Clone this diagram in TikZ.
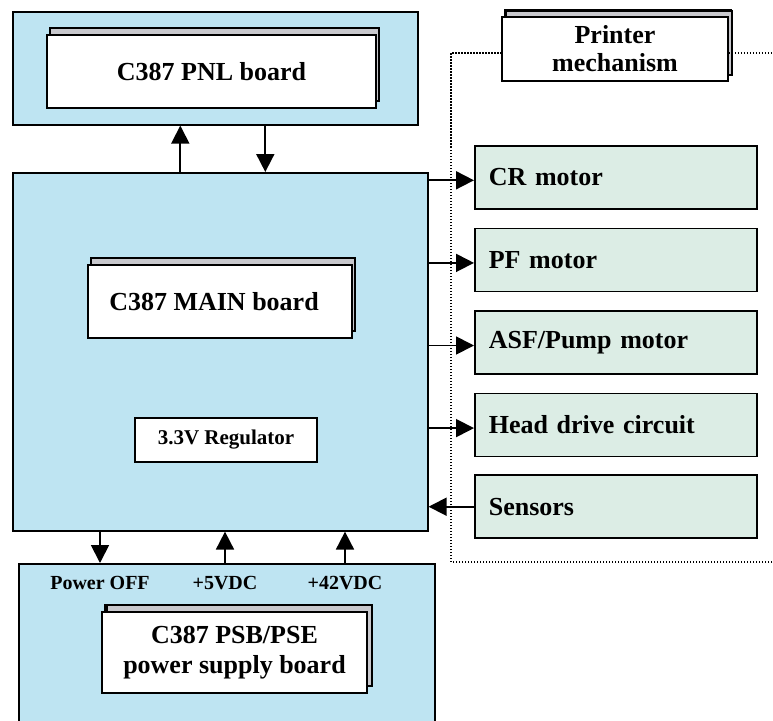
\documentclass[tikz,border=0pt]{standalone}
\usepackage{fontspec}
\setmainfont{Liberation Serif}
\usetikzlibrary{arrows.meta, positioning, shadows}
\definecolor{unitblue}{RGB}{190,228,242}
\definecolor{mechgreen}{RGB}{220,237,229}
\definecolor{shadowgray}{RGB}{200,200,205}

\begin{document}
\begin{tikzpicture}[x=1pt, y=-1pt,
      font=\bfseries\fontsize{26}{29}\selectfont,
      unit/.style={draw, line width=1.6pt, fill=unitblue, anchor=north west, inner sep=0pt},
      board/.style={draw, line width=1.6pt, fill=white, align=center, inner sep=0pt,
        copy shadow={shadow xshift=3pt, shadow yshift=7pt, fill=shadowgray, draw=black, line width=1.6pt}},
      mech/.style={draw, line width=1.6pt, fill=mechgreen, text width=254pt, align=left,
        inner xsep=14pt, minimum height=63pt},
      label/.style={font=\bfseries\fontsize{20}{22}\selectfont, inner sep=0pt},
      arrow/.style={-{Triangle[length=18pt, width=18pt]}, line width=1.8pt},
      mechline/.style={line width=1.5pt, dash pattern=on 1.5pt off 1.5pt}
    ]
      \useasboundingbox (0,0) rectangle (773,720);

      % panel unit
      \node[unit, minimum width=405pt, minimum height=113pt] (pnlunit) at (12,11) {};
      \node[board, minimum width=329pt, minimum height=73pt] (pnlboard) at (211.5,71.5) {C387 PNL board};

      % main unit
      \node[unit, minimum width=415pt, minimum height=358pt] (mainunit) at (12,172) {};
      \node[board, minimum width=264pt, minimum height=73pt] (mainboard) at (220,301.5) {C387 MAIN board\hspace{12pt}};
      \node[draw, line width=1.6pt, fill=white, minimum width=182pt, minimum height=44pt, inner sep=0pt,
        font=\bfseries\fontsize{21}{24}\selectfont] (regulator) at (226,440) {3.3V Regulator};

      % power supply unit
      \node[unit, minimum width=416pt, minimum height=170pt] (psbunit) at (18,563) {};
      \node[label] (lblpoweroff) at (100,583) {Power OFF};
      \node[label] (lblfivev) at (225,583) {+5VDC};
      \node[label] (lblfortytwov) at (345,583) {+42VDC};
      \node[board, minimum width=265pt, minimum height=81pt,
        copy shadow={shadow xshift=5pt, shadow yshift=7pt, fill=shadowgray, draw=black, line width=1.6pt}]
        (psbboard) at (234.5,652.5) {C387 PSB/PSE\\[1pt]power supply board};

      % printer mechanism
      \coordinate (mechtl) at (451,53);
      \coordinate (mechtr) at (775,53);
      \coordinate (mechbl) at (451,562);
      \coordinate (mechbr) at (775,562);
      \draw[mechline] (mechbr) -- (mechbl) -- (mechtl) -- (560,53);
      \node[board, minimum width=226pt, minimum height=64pt,
        copy shadow={shadow xshift=4pt, shadow yshift=6pt, fill=shadowgray, draw=black, line width=1.6pt}]
        (mechlabel) at (615,49) {Printer\\[-1pt]mechanism};
      \draw[mechline] (mechlabel.east |- mechtr) -- (mechtr);

      \node[mech, anchor=north west] (crmotor) at (474,145) {CR motor};
      \node[mech, below=18pt of crmotor] (pfmotor) {PF motor};
      \node[mech, below=18pt of pfmotor] (asfmotor) {ASF/Pump motor};
      \node[mech, below=18pt of asfmotor] (headdrive) {Head drive circuit};
      \node[mech, below=17pt of headdrive] (sensors) {Sensors};

      % connections
      \draw[arrow] ([xshift=-40pt]mainunit.north) -- ([xshift=-40pt]mainunit.north |- pnlunit.south);
      \draw[arrow] ([xshift=45pt]mainunit.north |- pnlunit.south) -- ([xshift=45pt]mainunit.north);
      \foreach \part in {crmotor, pfmotor, asfmotor, headdrive}
        \draw[arrow] ([yshift=-3pt]\part.west -| mainunit.east) -- ([yshift=-3pt]\part.west);
      \draw[arrow] (sensors.west) -- (sensors.west -| mainunit.east);
      \draw[arrow] (mainunit.south -| lblpoweroff) -- (psbunit.north -| lblpoweroff);
      \draw[arrow] (psbunit.north -| lblfivev) -- (mainunit.south -| lblfivev);
      \draw[arrow] (psbunit.north -| lblfortytwov) -- (mainunit.south -| lblfortytwov);
    \end{tikzpicture}
\end{document}
